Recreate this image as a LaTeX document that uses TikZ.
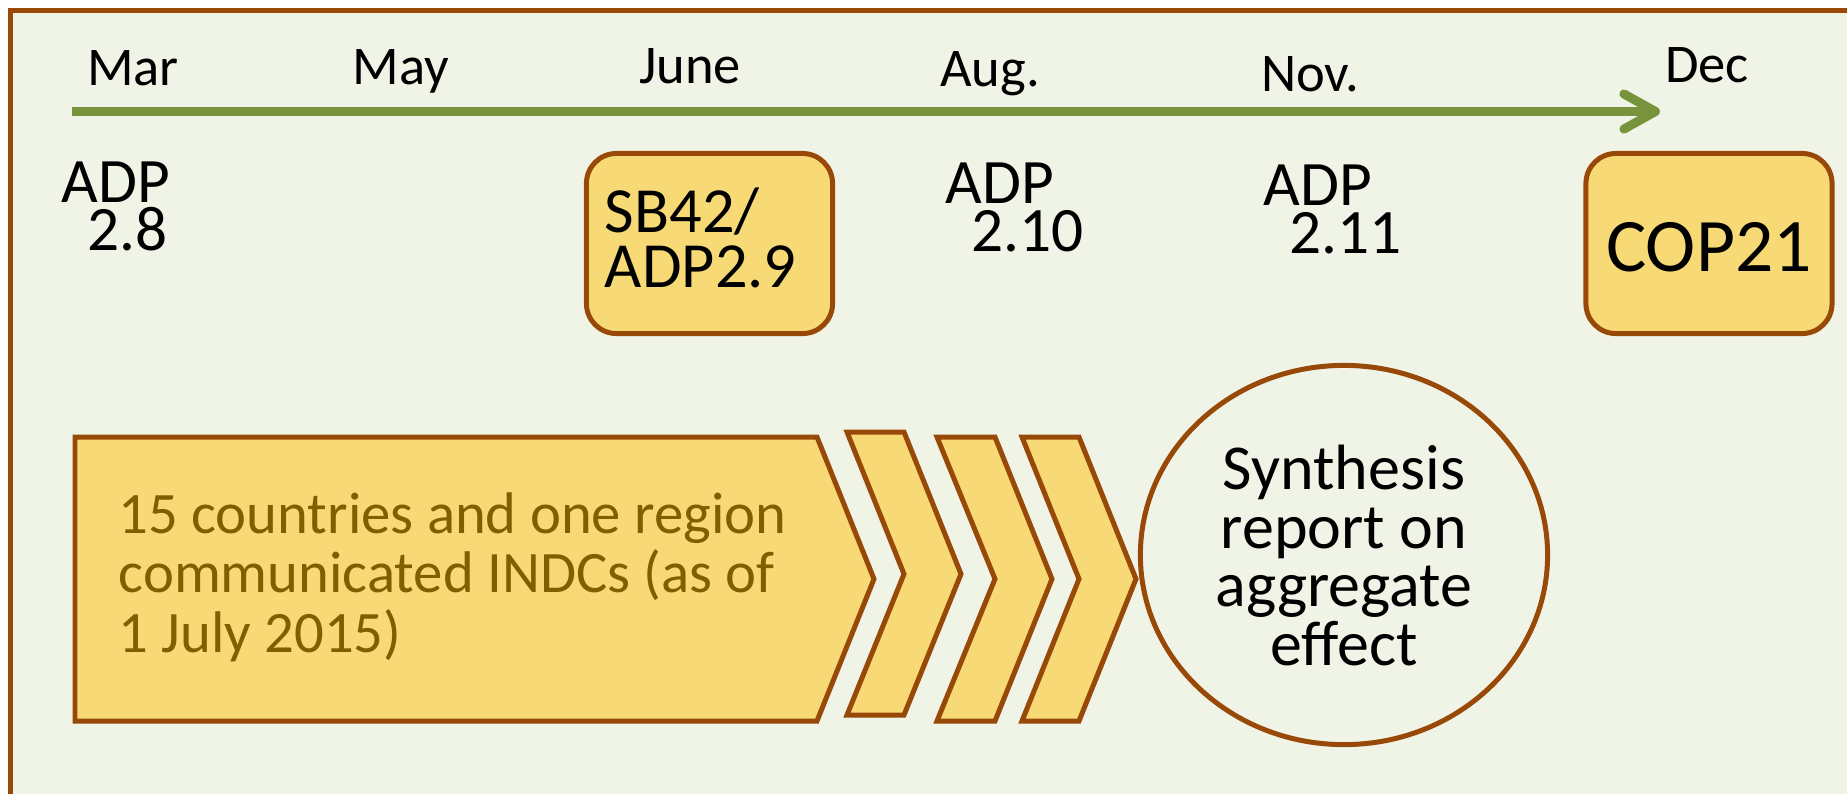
\documentclass[tikz,border=0pt]{standalone}
\usepackage{fontspec}
\setmainfont{Carlito}
\usetikzlibrary{arrows.meta,shapes.geometric}
\definecolor{bgc}{HTML}{F0F4E6}
\definecolor{brn}{HTML}{984807}
\definecolor{gold}{HTML}{F7DA76}
\definecolor{olv}{HTML}{77933C}
\definecolor{txo}{HTML}{7F6000}
\newcommand\mtext[4]{\parbox[t]{#1}{\fontsize{#2}{#3}\selectfont\lineskiplimit=-100pt\relax#4}}
\begin{document}
\begin{tikzpicture}[x=0.01cm,y=-0.01cm,
  frame/.style={draw=brn,line width=1.42pt},
  ybox/.style={draw=brn,fill=gold,line width=1.42pt,rounded corners=0.3cm,inner sep=0pt,minimum width=2.46cm,minimum height=1.80cm},
  shp/.style={draw=brn,fill=gold,line width=1.42pt,line join=miter},
  month/.style={inner sep=0pt,anchor=base,font=\fontsize{15.5pt}{18pt}\selectfont},
  plain/.style={inner sep=0pt,anchor=base west},
  tline/.style={draw=olv,line width=2.56pt,-{Straight Barb[length=9pt,width=10pt,round]}}]
\path[use as bounding box, clip] (0,0) rectangle (1847,793);
\fill[white] (0,0) rectangle (1847,793);
\draw[frame, fill=bgc] (10.5,10.5) rectangle (1900,900);
% timeline
\coordinate (tl0) at (72,111.5);
\coordinate (tl1) at (1660,111.5);
\draw[tline] (tl0) -- (tl1);
% months
\node[month] (mar) at (133,85) {Mar};
\node[month] (may) at (401,84) {May};
\node[month] (jun) at (690,83) {June};
\node[month] (aug) at (990,86) {Aug.};
\node[month] (nov) at (1310,91) {Nov.};
\node[month] (dec) at (1707,82) {Dec};
% sessions
\node[plain] (adp8) at (61,202) {\mtext{3cm}{18pt}{13.66pt}{ADP\\\hspace*{7.4pt}2.8}};
\node[plain] (adp10) at (945,203) {\mtext{3cm}{18pt}{13.66pt}{ADP\\\hspace*{7.4pt}2.10}};
\node[plain] (adp11) at (1263,205) {\mtext{3cm}{18pt}{13.66pt}{ADP\\\hspace*{7.4pt}2.11}};
\node[ybox, text height=0pt, text depth=6.54pt] (sb) at (709.5,243.5) {\mtext{59.47pt}{18.3pt}{15.65pt}{SB42/\\ADP2.9}};
\node[ybox, text height=15.65pt, text depth=0pt, font=\fontsize{21.5pt}{25pt}\selectfont] (cop) at (1709,243.5) {COP21};
% process arrows
\draw[shp] (75,437) -- (817,437) -- (874,579) -- (817,721) -- (75,721) -- cycle;
\node[plain, text=txo] (indc) at (118,533) {\mtext{12cm}{16.7pt}{16.93pt}{15 countries and one region\\communicated INDCs (as of\\1 July 2015)}};
\draw[shp] (847,432) -- (904,432) -- (961,574) -- (904,715) -- (847,715) -- (904,574) -- cycle;
\draw[shp] (937,437) -- (995,437) -- (1052,579) -- (995,721) -- (937,721) -- (995,579) -- cycle;
\draw[shp] (1022,437) -- (1079,437) -- (1136,579) -- (1079,721) -- (1022,721) -- (1079,579) -- cycle;
% synthesis report
\node[ellipse, draw=brn, line width=1.42pt, minimum width=4.07cm, minimum height=3.79cm, inner sep=0pt, text height=0pt, text depth=36.99pt] (syn) at (1344,555) {\mtext{2.7cm}{18.2pt}{16.6pt}{\centering Synthesis\\report on\\aggregate\\effect}};
\end{tikzpicture}
\end{document}
